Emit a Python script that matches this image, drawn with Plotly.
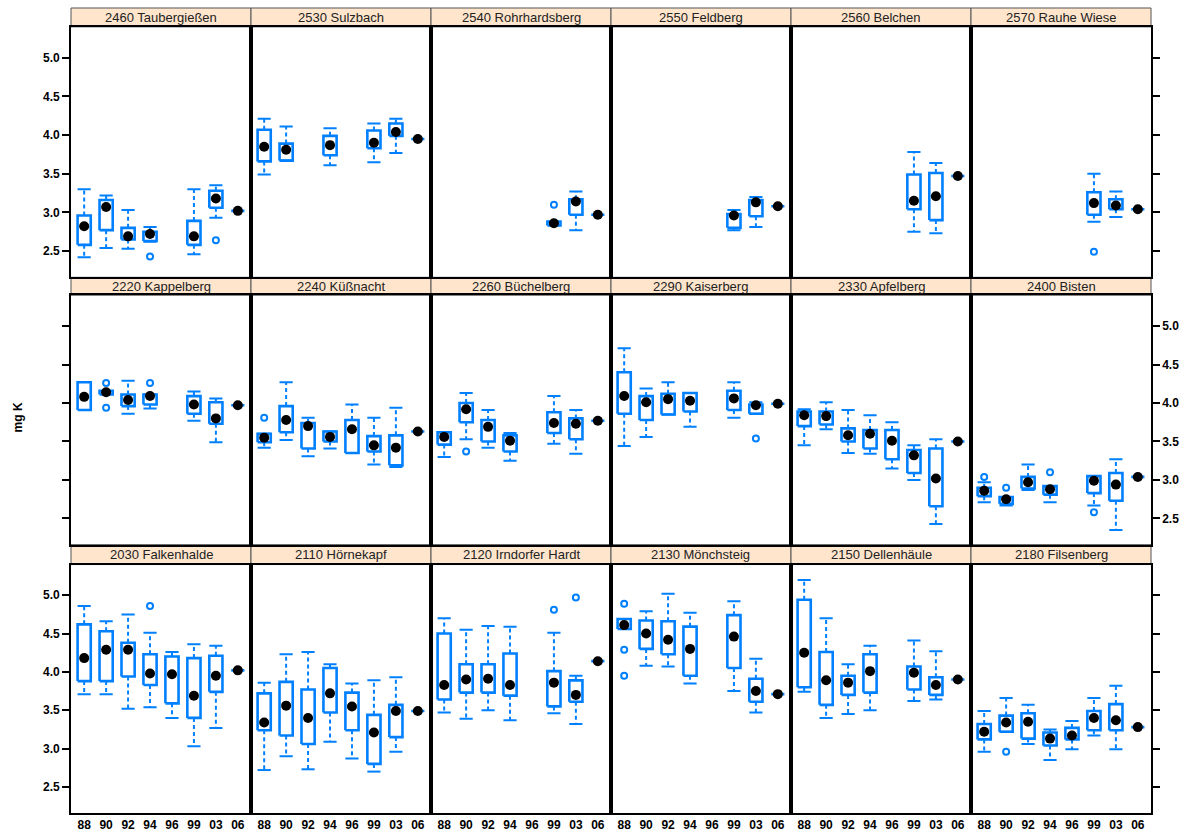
import plotly.graph_objects as go

N = None
years = ["88", "90", "92", "94", "96", "99", "03", "06"]

# Each station: lower whisker, lower hinge, median, upper hinge, upper whisker,
# plus outlying values (year, value). Rows listed top to bottom, left to right.
taubergiessen = dict(
    lo=[2.42, 2.54, 2.53, 2.62, N, 2.46, 2.93, 3.02],
    q1=[2.58, 2.77, 2.65, 2.63, N, 2.58, 3.06, 3.02],
    med=[2.82, 3.07, 2.69, 2.72, N, 2.69, 3.18, 3.02],
    q3=[2.96, 3.16, 2.80, 2.75, N, 2.89, 3.28, 3.02],
    hi=[3.30, 3.22, 3.03, 2.81, N, 3.30, 3.35, 3.02],
    out_year=["94", "03"], out_val=[2.43, 2.64])
sulzbach = dict(
    lo=[3.49, 3.67, N, 3.61, N, 3.65, 3.77, 3.95],
    q1=[3.66, 3.67, N, 3.74, N, 3.83, 3.99, 3.95],
    med=[3.85, 3.81, N, 3.87, N, 3.90, 4.04, 3.95],
    q3=[4.07, 3.89, N, 3.99, N, 4.06, 4.15, 3.95],
    hi=[4.21, 4.11, N, 4.09, N, 4.15, 4.21, 3.95],
    out_year=[], out_val=[])
rohrhardsberg = dict(
    lo=[N, N, N, N, N, 2.83, 2.77, 2.97],
    q1=[N, N, N, N, N, 2.83, 2.97, 2.97],
    med=[N, N, N, N, N, 2.86, 3.14, 2.97],
    q3=[N, N, N, N, N, 2.88, 3.17, 2.97],
    hi=[N, N, N, N, N, 2.88, 3.27, 2.97],
    out_year=["99"], out_val=[3.10])
feldberg = dict(
    lo=[N, N, N, N, N, 2.77, 2.81, 3.08],
    q1=[N, N, N, N, N, 2.80, 2.95, 3.08],
    med=[N, N, N, N, N, 2.96, 3.13, 3.08],
    q3=[N, N, N, N, N, 2.98, 3.16, 3.08],
    hi=[N, N, N, N, N, 3.03, 3.20, 3.08],
    out_year=[], out_val=[])
belchen = dict(
    lo=[N, N, N, N, N, 2.75, 2.73, 3.47],
    q1=[N, N, N, N, N, 3.04, 2.90, 3.47],
    med=[N, N, N, N, N, 3.15, 3.21, 3.47],
    q3=[N, N, N, N, N, 3.49, 3.51, 3.47],
    hi=[N, N, N, N, N, 3.78, 3.64, 3.47],
    out_year=[], out_val=[])
rauhe_wiese = dict(
    lo=[N, N, N, N, N, 2.88, 2.94, 3.04],
    q1=[N, N, N, N, N, 2.97, 3.04, 3.04],
    med=[N, N, N, N, N, 3.12, 3.09, 3.04],
    q3=[N, N, N, N, N, 3.26, 3.17, 3.04],
    hi=[N, N, N, N, N, 3.50, 3.27, 3.04],
    out_year=["99"], out_val=[2.49])

kappelberg = dict(
    lo=[3.91, 4.11, 3.86, 3.93, N, 3.77, 3.49, 3.97],
    q1=[3.91, 4.11, 3.96, 3.98, N, 3.86, 3.73, 3.97],
    med=[4.08, 4.14, 4.04, 4.09, N, 3.98, 3.80, 3.97],
    q3=[4.27, 4.16, 4.11, 4.11, N, 4.09, 4.01, 3.97],
    hi=[4.27, 4.16, 4.29, 4.11, N, 4.15, 4.06, 3.97],
    out_year=["90", "90", "94"], out_val=[4.26, 3.94, 4.26])
kuessnacht = dict(
    lo=[3.42, 3.52, 3.31, 3.41, 3.35, 3.20, 3.17, 3.63],
    q1=[3.49, 3.62, 3.41, 3.50, 3.35, 3.37, 3.19, 3.63],
    med=[3.55, 3.78, 3.70, 3.56, 3.66, 3.45, 3.42, 3.63],
    q3=[3.60, 3.96, 3.74, 3.63, 3.78, 3.57, 3.58, 3.63],
    hi=[3.60, 4.27, 3.81, 3.63, 3.98, 3.81, 3.94, 3.63],
    out_year=["88"], out_val=[3.81])
buechelberg = dict(
    lo=[3.30, 3.53, 3.42, 3.25, N, 3.47, 3.34, 3.77],
    q1=[3.46, 3.75, 3.50, 3.37, N, 3.61, 3.53, 3.77],
    med=[3.56, 3.92, 3.69, 3.51, N, 3.74, 3.73, 3.77],
    q3=[3.62, 4.00, 3.78, 3.58, N, 3.88, 3.80, 3.77],
    hi=[3.62, 4.13, 3.91, 3.61, N, 4.09, 3.91, 3.77],
    out_year=["90"], out_val=[3.37])
kaiserberg = dict(
    lo=[3.44, 3.56, 3.85, 3.69, N, 3.81, 3.86, 3.99],
    q1=[3.86, 3.78, 3.85, 3.89, N, 3.91, 3.86, 3.99],
    med=[4.09, 4.01, 4.05, 4.03, N, 4.06, 3.97, 3.99],
    q3=[4.40, 4.09, 4.12, 4.13, N, 4.16, 3.98, 3.99],
    hi=[4.71, 4.19, 4.27, 4.13, N, 4.27, 4.01, 3.99],
    out_year=["03"], out_val=[3.54])
apfelberg = dict(
    lo=[3.45, 3.66, 3.35, 3.34, 3.15, 3.00, 2.43, 3.50],
    q1=[3.70, 3.72, 3.50, 3.41, 3.27, 3.09, 2.66, 3.50],
    med=[3.84, 3.83, 3.58, 3.60, 3.51, 3.32, 3.02, 3.50],
    q3=[3.89, 3.89, 3.67, 3.65, 3.65, 3.39, 3.41, 3.50],
    hi=[3.92, 4.01, 3.91, 3.84, 3.75, 3.45, 3.53, 3.50],
    out_year=[], out_val=[])
bisten = dict(
    lo=[2.71, 2.67, 2.87, 2.71, N, 2.67, 2.35, 3.04],
    q1=[2.79, 2.69, 2.89, 2.81, N, 2.83, 2.73, 3.04],
    med=[2.86, 2.75, 2.97, 2.88, N, 2.99, 2.94, 3.04],
    q3=[2.90, 2.78, 3.04, 2.92, N, 3.05, 3.09, 3.04],
    hi=[2.97, 2.78, 3.20, 2.92, N, 3.05, 3.27, 3.04],
    out_year=["88", "90", "94", "99"], out_val=[3.04, 2.90, 3.10, 2.58])

falkenhalde = dict(
    lo=[3.71, 3.71, 3.52, 3.54, 3.40, 3.03, 3.27, 4.02],
    q1=[3.88, 3.88, 3.94, 3.83, 3.59, 3.40, 3.74, 4.02],
    med=[4.18, 4.29, 4.29, 3.98, 3.97, 3.69, 3.95, 4.02],
    q3=[4.62, 4.53, 4.38, 4.23, 4.20, 4.18, 4.21, 4.02],
    hi=[4.86, 4.66, 4.75, 4.51, 4.26, 4.36, 4.34, 4.02],
    out_year=["94"], out_val=[4.86])
hoernekapf = dict(
    lo=[2.72, 2.90, 2.73, 3.09, 2.87, 2.70, 2.96, 3.49],
    q1=[3.24, 3.17, 3.06, 3.47, 3.24, 2.80, 3.15, 3.49],
    med=[3.34, 3.56, 3.40, 3.72, 3.55, 3.21, 3.49, 3.49],
    q3=[3.72, 3.87, 3.77, 4.05, 3.73, 3.44, 3.57, 3.49],
    hi=[3.86, 4.23, 4.26, 4.10, 3.85, 3.89, 3.93, 3.49],
    out_year=[], out_val=[])
irndorfer_hardt = dict(
    lo=[3.47, 3.39, 3.50, 3.37, N, 3.46, 3.32, 4.14],
    q1=[3.64, 3.73, 3.73, 3.69, N, 3.55, 3.61, 4.14],
    med=[3.83, 3.90, 3.91, 3.83, N, 3.86, 3.70, 4.14],
    q3=[4.50, 4.10, 4.10, 4.24, N, 4.01, 3.89, 4.14],
    hi=[4.70, 4.55, 4.60, 4.59, N, 4.51, 3.95, 4.14],
    out_year=["99", "03"], out_val=[4.81, 4.97])
moenchsteig = dict(
    lo=[4.56, 4.08, 4.07, 3.85, N, 3.75, 3.47, 3.71],
    q1=[4.56, 4.30, 4.23, 3.95, N, 4.05, 3.61, 3.71],
    med=[4.61, 4.50, 4.42, 4.30, N, 4.46, 3.75, 3.71],
    q3=[4.69, 4.67, 4.66, 4.59, N, 4.74, 3.91, 3.71],
    hi=[4.69, 4.79, 5.02, 4.77, N, 4.92, 4.17, 3.71],
    out_year=["88", "88", "88"], out_val=[4.89, 4.29, 3.95])
dellenhaeule = dict(
    lo=[3.74, 3.40, 3.45, 3.50, N, 3.62, 3.64, 3.90],
    q1=[3.80, 3.57, 3.70, 3.73, N, 3.77, 3.70, 3.90],
    med=[4.25, 3.89, 3.86, 4.01, N, 3.99, 3.83, 3.90],
    q3=[4.94, 4.26, 3.95, 4.23, N, 4.07, 3.93, 3.90],
    hi=[5.20, 4.70, 4.10, 4.34, N, 4.41, 4.27, 3.90],
    out_year=[], out_val=[])
filsenberg = dict(
    lo=[2.96, 3.22, 3.06, 2.85, 2.99, 3.17, 2.99, 3.28],
    q1=[3.12, 3.22, 3.13, 3.04, 3.12, 3.24, 3.24, 3.28],
    med=[3.22, 3.34, 3.35, 3.13, 3.17, 3.40, 3.37, 3.28],
    q3=[3.32, 3.43, 3.46, 3.21, 3.27, 3.49, 3.58, 3.28],
    hi=[3.49, 3.66, 3.57, 3.25, 3.36, 3.66, 3.82, 3.28],
    out_year=["90"], out_val=[2.96])

panels = [
    ("2460 Taubergießen", taubergiessen), ("2530 Sulzbach", sulzbach),
    ("2540 Rohrhardsberg", rohrhardsberg), ("2550 Feldberg", feldberg),
    ("2560 Belchen", belchen), ("2570 Rauhe Wiese", rauhe_wiese),
    ("2220 Kappelberg", kappelberg), ("2240 Küßnacht", kuessnacht),
    ("2260 Büchelberg", buechelberg), ("2290 Kaiserberg", kaiserberg),
    ("2330 Apfelberg", apfelberg), ("2400 Bisten", bisten),
    ("2030 Falkenhalde", falkenhalde), ("2110 Hörnekapf", hoernekapf),
    ("2120 Irndorfer Hardt", irndorfer_hardt), ("2130 Mönchsteig", moenchsteig),
    ("2150 Dellenhäule", dellenhaeule), ("2180 Filsenberg", filsenberg),
]

y_ticks = [2.5, 3.0, 3.5, 4.0, 4.5, 5.0]

# ---- styling / geometry ----
BLUE = "#0080ff"
W, H = 1188, 840
ML, MR, MT, MB = 71, 37, 8, 22
PW, PH = W - ML - MR, H - MT - MB
HALF = 0.3  # half box width in category units
panel_rows_px = [(27, 279), (297, 548), (568, 818)]
strip_rows_px = [(8, 27), (279, 297), (548, 568)]
ncol = 6
TICKFONT = dict(family="Liberation Sans", size=12, color="black", weight="bold")


def py(px):
    return (H - MB - px) / PH


fig = go.Figure()
layout = dict(shapes=[], annotations=[])
xpos = {yr: i for i, yr in enumerate(years)}

for k, (name, d) in enumerate(panels):
    r, c = divmod(k, ncol)
    ax = "" if k == 0 else str(k + 1)
    xa, ya = "x" + ax, "y" + ax

    wx, wy, cx, cy, bx, by, mx, my = [], [], [], [], [], [], [], []
    for i in range(len(years)):
        if d["med"][i] is None:
            continue
        lo, q1, med, q3, hi = d["lo"][i], d["q1"][i], d["med"][i], d["q3"][i], d["hi"][i]
        if hi > q3:
            wx += [i, i, None]
            wy += [q3, hi, None]
        if lo < q1:
            wx += [i, i, None]
            wy += [q1, lo, None]
        if hi > q3 or lo < q1:
            cx += [i - HALF, i + HALF, None, i - HALF, i + HALF, None]
            cy += [hi, hi, None, lo, lo, None]
        bx += [i - HALF, i + HALF, i + HALF, i - HALF, i - HALF, None]
        by += [q1, q1, q3, q3, q1, None]
        mx.append(i)
        my.append(med)

    common = dict(xaxis=xa, yaxis=ya, showlegend=False, hoverinfo="skip")
    fig.add_trace(go.Scatter(x=wx, y=wy, mode="lines",
                             line=dict(color=BLUE, width=2, dash="4px,3px"), **common))
    fig.add_trace(go.Scatter(x=cx, y=cy, mode="lines",
                             line=dict(color=BLUE, width=2), **common))
    fig.add_trace(go.Scatter(x=bx, y=by, mode="lines",
                             line=dict(color=BLUE, width=2.6), **common))
    if d["out_val"]:
        fig.add_trace(go.Scatter(x=[xpos[yr] for yr in d["out_year"]], y=d["out_val"],
                                 mode="markers",
                                 marker=dict(symbol="circle-open", size=6, color=BLUE,
                                             line=dict(width=2, color=BLUE)), **common))
    fig.add_trace(go.Scatter(x=mx, y=my, mode="markers",
                             marker=dict(size=10, color="black"), **common))

    x0 = c / ncol
    x1 = (c + 1) / ncol
    top, bot = panel_rows_px[r]
    layout["xaxis" + ax] = dict(
        domain=[x0, x1], anchor=ya, range=[-0.6, 7.6],
        tickvals=list(range(len(years))), ticktext=years,
        showticklabels=(r == 2), ticks="", tickfont=TICKFONT,
        showgrid=False, zeroline=False, showline=True, mirror=True,
        linecolor="black", linewidth=1.6, fixedrange=True)

    yax = dict(domain=[py(bot), py(top)], anchor=xa, range=[2.16, 5.40],
               tickvals=y_ticks, ticktext=[f"{v:.1f}" for v in y_ticks],
               showgrid=False, zeroline=False, showline=True, mirror=True,
               linecolor="black", linewidth=1.6, ticks="", showticklabels=False,
               tickfont=TICKFONT, fixedrange=True)
    if c == 0:
        yax.update(side="left", ticks="outside", ticklen=7, tickwidth=2,
                   tickcolor="black", showticklabels=(r != 1))
    elif c == ncol - 1:
        yax.update(side="right", ticks="outside", ticklen=7, tickwidth=2,
                   tickcolor="black", showticklabels=(r == 1))
    layout["yaxis" + ax] = yax

    # strip header
    s_top, s_bot = strip_rows_px[r]
    layout["shapes"].append(dict(type="rect", xref="paper", yref="paper",
                                 x0=x0, x1=x1, y0=py(s_bot), y1=py(s_top),
                                 fillcolor="#ffe5cc", line=dict(color="#555555", width=1),
                                 layer="below"))
    layout["annotations"].append(dict(text=name, xref="paper", yref="paper",
                                      x=(x0 + x1) / 2, y=(py(s_bot) + py(s_top)) / 2,
                                      showarrow=False, xanchor="center", yanchor="middle",
                                      font=dict(family="Liberation Sans", size=13,
                                                color="#222222")))

layout["annotations"].append(dict(text="mg K", xref="paper", yref="paper",
                                  x=(18 - ML) / PW, y=py(420), textangle=-90,
                                  showarrow=False, xanchor="center", yanchor="middle",
                                  font=dict(family="Liberation Sans", size=12,
                                            color="black", weight="bold")))

fig.update_layout(width=W, height=H, margin=dict(l=ML, r=MR, t=MT, b=MB),
                  paper_bgcolor="white", plot_bgcolor="white", **layout)
fig.write_html("out.html")
